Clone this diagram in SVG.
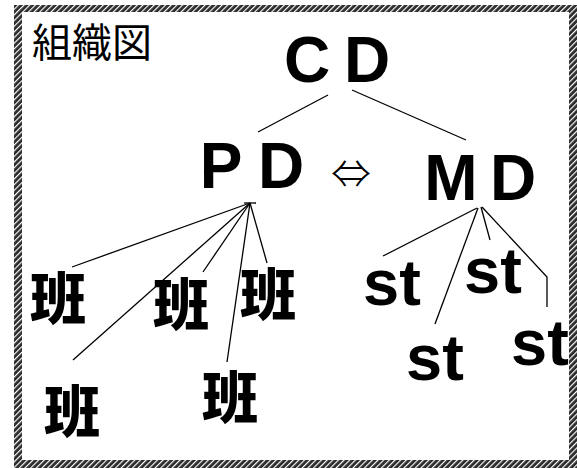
<svg xmlns="http://www.w3.org/2000/svg" width="577" height="468" viewBox="0 0 577 468">
  <defs>
    <pattern id="hatch" patternUnits="userSpaceOnUse" width="4" height="4" patternTransform="rotate(45)">
      <rect width="4" height="4" fill="#2a2a2a"/>
      <rect x="0" y="0" width="1.2" height="4" fill="#ffffff"/>
    </pattern>
    <style>
      .big { font-family: "Liberation Sans", Arial, sans-serif; font-weight: bold; font-size: 64px; fill: #000; text-anchor: middle; }
      .st { font-family: "Liberation Sans", Arial, sans-serif; font-weight: bold; font-size: 65px; fill: #000; text-anchor: middle; }
      .han { font-family: "Noto Sans CJK JP", sans-serif; font-weight: 900; font-size: 56px; fill: #000; text-anchor: middle; }
      .title { font-family: "Noto Sans CJK JP", sans-serif; font-weight: 400; font-size: 40px; fill: #000; }
      .arrow { font-family: "Noto Sans CJK JP", sans-serif; font-weight: 300; font-size: 40px; fill: #000; text-anchor: middle; }
      .edge { stroke: #000; stroke-width: 1.3; fill: none; }
    </style>
  </defs>
  <rect width="577" height="468" fill="#ffffff"/>
  <path id="frame" d="M14 5 H577 V468 H14 Z M22 12 V460 H569 V12 Z" fill="url(#hatch)" fill-rule="evenodd"/>

  <g id="title"><text class="title" x="32" y="57">組織図</text></g>

  <g id="connectors">
    <line class="edge" x1="328" y1="95" x2="258" y2="132"/>
    <line class="edge" x1="352" y1="90" x2="466" y2="140"/>
    <line class="edge" x1="250" y1="203" x2="72" y2="267"/>
    <line class="edge" x1="250" y1="203" x2="73" y2="360"/>
    <line class="edge" x1="250" y1="203" x2="203" y2="272"/>
    <line class="edge" x1="250" y1="203" x2="227" y2="362"/>
    <line class="edge" x1="250" y1="203" x2="267" y2="263"/>
    <line class="edge" x1="244" y1="203" x2="256" y2="203"/>
    <line class="edge" x1="477" y1="208" x2="383" y2="256"/>
    <line class="edge" x1="478" y1="208" x2="435" y2="324"/>
    <line class="edge" x1="481" y1="207" x2="490" y2="240"/>
    <polyline class="edge" points="482,207 547,277 547,307"/>
  </g>

  <g id="node-cd"><text class="big" x="307" y="82">C</text><text class="big" x="367" y="82">D</text></g>
  <g id="node-pd"><text class="big" x="221" y="188">P</text><text class="big" x="281" y="188">D</text></g>
  <g id="node-md"><text class="big" x="451" y="200">M</text><text class="big" x="513" y="200">D</text></g>
  <g id="relation"><text class="arrow" x="351" y="188">⇔</text></g>

  <g id="node-han1"><text class="han" x="58" y="319">班</text></g>
  <g id="node-han2"><text class="han" x="181" y="325">班</text></g>
  <g id="node-han3"><text class="han" x="268" y="315">班</text></g>
  <g id="node-han4"><text class="han" x="72" y="432">班</text></g>
  <g id="node-han5"><text class="han" x="230" y="418">班</text></g>

  <g id="node-st1"><text class="st" x="392" y="305">st</text></g>
  <g id="node-st2"><text class="st" x="493" y="293">st</text></g>
  <g id="node-st3"><text class="st" x="435" y="380">st</text></g>
  <g id="node-st4"><text class="st" x="540" y="365">st</text></g>
</svg>
